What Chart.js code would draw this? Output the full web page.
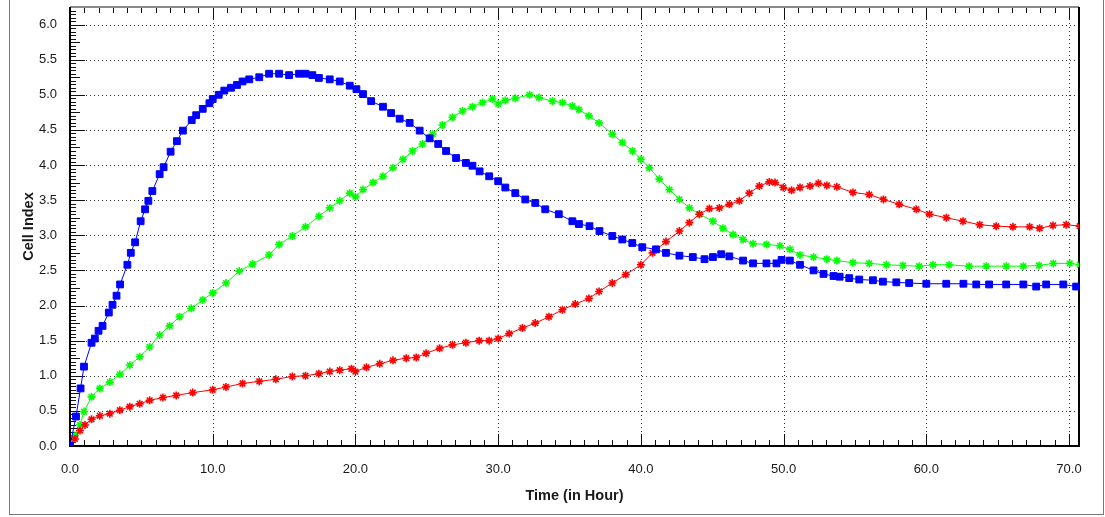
<!DOCTYPE html>
<html>
<head>
<meta charset="utf-8">
<script src="https://cdn.jsdelivr.net/npm/chart.js@4/dist/chart.umd.min.js"></script>
<style>
  html, body { margin: 0; padding: 0; background: #ffffff; }
  #wrap { position: relative; width: 1105px; height: 517px; overflow: hidden; background: #fff; }
  #box { position: absolute; left: 9px; top: -2px; width: 1095px; height: 517px; border: 1px solid #777; box-sizing: border-box; pointer-events: none; }
  canvas { position: absolute; left: 0; top: 0; }
</style>
</head>
<body>
<div id="wrap">
  <canvas id="c" width="1105" height="517"></canvas>
  <div id="box"></div>
</div>
<script>
// ---- Data (Time in hours, Cell Index) ----
const blueTime = [0, 0.42, 0.74, 0.98, 1.51, 1.74, 2.0, 2.28, 2.72, 2.98, 3.26, 3.51, 4.02, 4.26, 4.56, 4.95, 5.26, 5.49, 5.77, 6.28, 6.56, 7.05, 7.49, 7.91, 8.53, 8.84, 9.30, 9.77, 10.0, 10.42, 10.81, 11.28, 11.70, 12.09, 12.56, 13.26, 13.95, 14.65, 15.35, 16.05, 16.5, 16.98, 17.44, 18.2, 18.9, 19.6, 20.07, 20.53, 21.1, 21.93, 22.5, 23.1, 23.8, 24.5, 25.2, 25.8, 26.35, 27.05, 27.74, 28.2, 28.7, 29.37, 30.0, 30.5, 31.2, 31.9, 32.6, 33.3, 34.25, 35.2, 35.66, 36.4, 37.1, 38.0, 38.7, 39.4, 40.1, 41.06, 41.76, 42.7, 43.64, 44.46, 45.05, 45.63, 46.2, 47.16, 47.86, 48.8, 49.5, 49.86, 50.44, 51.15, 52.1, 52.8, 53.5, 53.93, 54.6, 55.3, 56.26, 56.96, 57.9, 58.8, 60.0, 61.4, 62.6, 63.5, 64.4, 65.6, 66.8, 67.7, 68.4, 69.6, 70.5, 70.9];
const blueIndex = [0, 0.42, 0.82, 1.13, 1.47, 1.53, 1.64, 1.71, 1.90, 2.01, 2.14, 2.30, 2.58, 2.75, 2.90, 3.20, 3.37, 3.49, 3.63, 3.87, 3.97, 4.19, 4.34, 4.49, 4.64, 4.71, 4.80, 4.88, 4.94, 5.00, 5.06, 5.10, 5.14, 5.19, 5.22, 5.25, 5.30, 5.30, 5.28, 5.30, 5.30, 5.28, 5.24, 5.22, 5.19, 5.13, 5.08, 5.01, 4.91, 4.83, 4.74, 4.66, 4.60, 4.49, 4.38, 4.30, 4.20, 4.10, 4.03, 3.99, 3.91, 3.84, 3.77, 3.68, 3.60, 3.51, 3.46, 3.37, 3.30, 3.20, 3.16, 3.13, 3.06, 2.99, 2.94, 2.89, 2.83, 2.80, 2.75, 2.71, 2.69, 2.66, 2.69, 2.73, 2.70, 2.64, 2.60, 2.60, 2.60, 2.65, 2.64, 2.58, 2.50, 2.45, 2.42, 2.41, 2.39, 2.37, 2.36, 2.34, 2.33, 2.32, 2.31, 2.31, 2.31, 2.30, 2.30, 2.30, 2.30, 2.27, 2.30, 2.30, 2.27, 2.27];

const greenTime = [0, 0.35, 0.7, 0.98, 1.51, 2.09, 2.79, 3.49, 4.19, 4.88, 5.58, 6.28, 6.98, 7.67, 8.49, 9.3, 10.0, 10.93, 11.86, 12.79, 13.95, 14.65, 15.58, 16.5, 17.44, 18.2, 18.9, 19.6, 20.0, 20.53, 21.23, 21.93, 22.63, 23.33, 24.0, 24.7, 25.4, 26.1, 26.8, 27.5, 28.2, 28.9, 29.6, 30.0, 30.5, 31.2, 32.2, 32.86, 33.8, 34.5, 35.2, 35.66, 36.36, 37.07, 38.0, 38.7, 39.41, 40.0, 40.59, 41.29, 42.0, 42.7, 43.4, 44.1, 45.05, 45.75, 46.46, 47.16, 47.86, 48.8, 49.74, 50.45, 51.15, 52.1, 53.03, 53.73, 54.86, 56.0, 57.2, 58.36, 59.5, 60.47, 61.6, 63.0, 64.2, 65.6, 66.8, 67.9, 68.9, 70.05, 70.75];
const greenIndex = [0, 0.15, 0.30, 0.49, 0.70, 0.82, 0.91, 1.02, 1.15, 1.27, 1.41, 1.58, 1.71, 1.84, 1.96, 2.08, 2.18, 2.32, 2.49, 2.59, 2.72, 2.87, 2.99, 3.12, 3.27, 3.39, 3.49, 3.60, 3.55, 3.65, 3.75, 3.84, 3.96, 4.08, 4.20, 4.30, 4.44, 4.57, 4.68, 4.77, 4.83, 4.89, 4.94, 4.87, 4.92, 4.95, 5.00, 4.96, 4.91, 4.89, 4.84, 4.79, 4.70, 4.60, 4.44, 4.32, 4.20, 4.08, 3.96, 3.80, 3.65, 3.51, 3.39, 3.30, 3.20, 3.10, 3.01, 2.94, 2.88, 2.87, 2.85, 2.80, 2.72, 2.69, 2.66, 2.64, 2.61, 2.60, 2.58, 2.57, 2.56, 2.58, 2.58, 2.56, 2.56, 2.56, 2.56, 2.57, 2.60, 2.60, 2.58];

const redTime = [0, 0.35, 0.7, 1.05, 1.51, 2.09, 2.79, 3.49, 4.19, 4.88, 5.58, 6.51, 7.44, 8.6, 10.0, 10.93, 12.09, 13.26, 14.42, 15.58, 16.5, 17.44, 18.2, 18.9, 19.72, 20.0, 20.77, 21.7, 22.63, 23.56, 24.26, 24.95, 25.9, 26.8, 27.74, 28.67, 29.37, 30.0, 30.77, 31.7, 32.6, 33.56, 34.5, 35.4, 36.36, 37.07, 38.0, 38.94, 40.0, 40.82, 41.76, 42.7, 43.4, 44.1, 44.8, 45.5, 46.2, 46.9, 47.6, 48.3, 49.0, 49.4, 49.98, 50.56, 51.15, 51.85, 52.44, 53.03, 53.73, 54.86, 56.0, 57.0, 58.1, 59.3, 60.23, 61.4, 62.57, 63.74, 64.9, 66.07, 67.24, 67.94, 68.88, 69.8, 70.75];
const redIndex = [0, 0.10, 0.22, 0.30, 0.38, 0.43, 0.46, 0.51, 0.56, 0.60, 0.65, 0.69, 0.72, 0.76, 0.80, 0.84, 0.89, 0.92, 0.95, 0.99, 1.00, 1.03, 1.06, 1.08, 1.10, 1.06, 1.12, 1.17, 1.22, 1.25, 1.26, 1.32, 1.39, 1.44, 1.47, 1.50, 1.50, 1.53, 1.60, 1.68, 1.75, 1.84, 1.94, 2.02, 2.10, 2.20, 2.32, 2.44, 2.58, 2.75, 2.91, 3.06, 3.18, 3.30, 3.38, 3.39, 3.44, 3.49, 3.60, 3.70, 3.76, 3.75, 3.68, 3.64, 3.68, 3.70, 3.74, 3.71, 3.69, 3.61, 3.58, 3.51, 3.44, 3.37, 3.30, 3.25, 3.20, 3.15, 3.13, 3.12, 3.12, 3.10, 3.14, 3.15, 3.13];

const xTickValues = [0, 10, 20, 30, 40, 50, 60, 70];
const yTickValues = [0, 0.5, 1.0, 1.5, 2.0, 2.5, 3.0, 3.5, 4.0, 4.5, 5.0, 5.5, 6.0];
const xMax = 70.7;
const yMax = 6.25;

function pts(t, v) { return t.map((x, i) => ({ x: x, y: v[i] })); }

const FONT = "'Liberation Sans', Arial, sans-serif";

const decor = {
  id: 'decor',
  beforeDatasetsDraw(chart) {
    const { ctx, chartArea: a, scales: { x, y } } = chart;
    ctx.save();
    // dotted grid
    ctx.strokeStyle = '#333';
    ctx.lineWidth = 1;
    ctx.setLineDash([1, 3]);
    yTickValues.forEach(v => {
      if (v === 0) return;
      const py = Math.round(y.getPixelForValue(v)) + 0.5;
      ctx.beginPath(); ctx.moveTo(a.left, py); ctx.lineTo(a.right, py); ctx.stroke();
    });
    xTickValues.forEach(v => {
      if (v === 0) return;
      const px = Math.round(x.getPixelForValue(v)) + 0.5;
      ctx.beginPath(); ctx.moveTo(px, a.top); ctx.lineTo(px, a.bottom); ctx.stroke();
    });
    ctx.setLineDash([]);
    // y ticks (inside, from left edge)
    ctx.strokeStyle = '#111';
    for (let i = 0; i <= 125; i++) {
      const v = i * 0.05;
      if (v > yMax) break;
      const py = Math.round(y.getPixelForValue(v)) + 0.5;
      const len = (i % 10 === 0) ? 15 : (i % 5 === 0 ? 10 : 6);
      ctx.beginPath(); ctx.moveTo(a.left, py); ctx.lineTo(a.left + len, py); ctx.stroke();
    }
    // x ticks bottom and top
    for (let i = 0; i <= 70; i++) {
      const px = Math.round(x.getPixelForValue(i)) + 0.5;
      const len = (i % 10 === 0) ? 12 : 6;
      ctx.beginPath(); ctx.moveTo(px, a.bottom); ctx.lineTo(px, a.bottom - len); ctx.stroke();
      ctx.beginPath(); ctx.moveTo(px, a.top); ctx.lineTo(px, a.top + len); ctx.stroke();
    }
    // frame
    ctx.lineWidth = 2;
    ctx.strokeStyle = '#8a8a8a';
    ctx.beginPath(); ctx.moveTo(a.left, a.top); ctx.lineTo(a.right, a.top); ctx.stroke();
    ctx.strokeStyle = '#000';
    ctx.beginPath(); ctx.moveTo(a.left, a.top); ctx.lineTo(a.left, a.bottom); ctx.lineTo(a.right, a.bottom); ctx.lineTo(a.right, a.top); ctx.stroke();
    ctx.restore();
  }
};

function noPad(s) { s.paddingTop = 0; s.paddingBottom = 0; s.paddingLeft = 0; s.paddingRight = 0; }

new Chart(document.getElementById('c'), {
  type: 'scatter',
  data: {
    datasets: [
      {
        label: 'Blue',
        data: pts(blueTime, blueIndex),
        showLine: true,
        borderColor: '#0000ff',
        backgroundColor: '#0000ff',
        borderWidth: 1,
        pointStyle: 'rect',
        pointRadius: 4.8,
        pointBorderWidth: 1,
        pointBorderColor: '#0000ff',
        pointBackgroundColor: '#0000ff'
      },
      {
        label: 'Red',
        data: pts(redTime, redIndex),
        showLine: true,
        borderColor: '#ff0000',
        backgroundColor: '#ff0000',
        borderWidth: 1,
        pointStyle: 'star',
        pointRadius: 4,
        pointBorderWidth: 1.6,
        pointBorderColor: '#ff0000'
      },
      {
        label: 'Green',
        data: pts(greenTime, greenIndex),
        showLine: true,
        borderColor: '#00ff00',
        backgroundColor: '#00ff00',
        borderWidth: 1,
        pointStyle: 'star',
        pointRadius: 4,
        pointBorderWidth: 1.6,
        pointBorderColor: '#00ff00'
      }
    ]
  },
  options: {
    responsive: false,
    animation: false,
    events: [],
    layout: { padding: { left: 0, top: 7, right: 26, bottom: 0 } },
    plugins: { legend: { display: false }, tooltip: { enabled: false } },
    scales: {
      x: {
        type: 'linear',
        min: 0,
        max: xMax,
        grid: { display: false, drawTicks: false },
        border: { display: false },
        afterBuildTicks: s => { s.ticks = xTickValues.map(v => ({ value: v })); },
        afterFit: s => { s.height = 71; noPad(s); },
        ticks: {
          padding: 16,
          autoSkip: false,
          maxRotation: 0,
          color: '#1a1a1a',
          font: { family: FONT, size: 13 },
          callback: v => Number(v).toFixed(1)
        },
        title: {
          display: true,
          text: 'Time (in Hour)',
          color: '#1a1a1a',
          font: { family: FONT, size: 14.5, weight: 'bold' },
          padding: { top: 0, bottom: 12 }
        }
      },
      y: {
        type: 'linear',
        min: 0,
        max: yMax,
        grid: { display: false, drawTicks: false },
        border: { display: false },
        afterBuildTicks: s => { s.ticks = yTickValues.map(v => ({ value: v })); },
        afterFit: s => { s.width = 70; noPad(s); },
        ticks: {
          padding: 13,
          autoSkip: false,
          color: '#1a1a1a',
          font: { family: FONT, size: 13 },
          callback: v => Number(v).toFixed(1)
        },
        title: {
          display: true,
          text: 'Cell Index',
          color: '#1a1a1a',
          font: { family: FONT, size: 14.5, weight: 'bold' },
          padding: { top: 20, bottom: 0 }
        }
      }
    }
  },
  plugins: [decor]
});
</script>
</body>
</html>
